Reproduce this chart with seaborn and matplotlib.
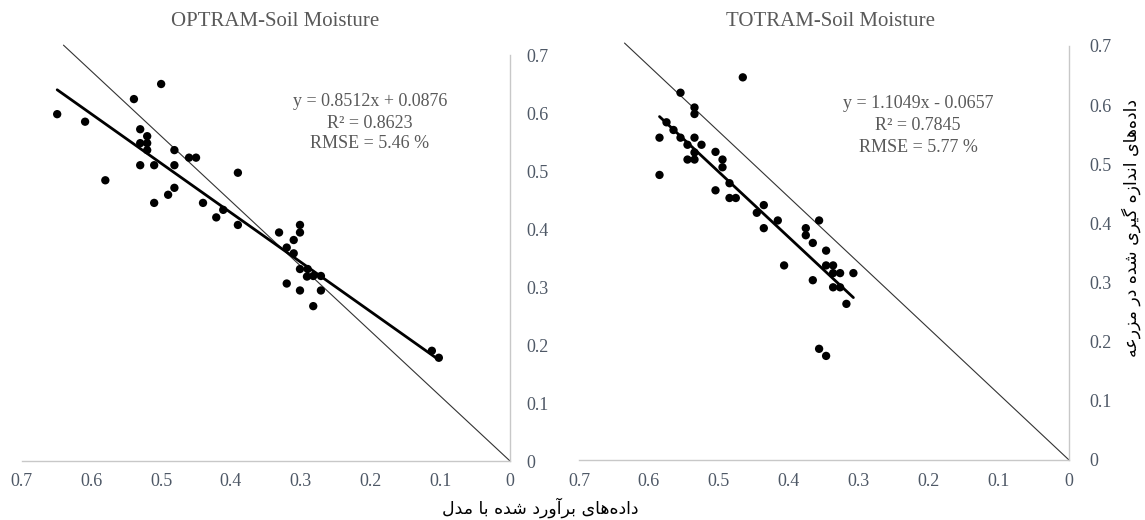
import numpy as np
import pandas as pd
import matplotlib
matplotlib.use("Agg")
import matplotlib.pyplot as plt
import seaborn as sns

# OPTRAM panel: model estimate (x) vs field measurement (y)
optram_x = [0.649, 0.609, 0.500, 0.539, 0.530, 0.520, 0.530, 0.520, 0.520, 0.481,
            0.460, 0.450, 0.530, 0.510, 0.481, 0.390, 0.580, 0.481, 0.490, 0.510,
            0.440, 0.411, 0.421, 0.390, 0.331, 0.301, 0.301, 0.310, 0.320, 0.310,
            0.301, 0.290, 0.291, 0.282, 0.271, 0.320, 0.301, 0.271, 0.282, 0.112,
            0.102]
optram_y = [0.598, 0.585, 0.650, 0.624, 0.572, 0.560, 0.548, 0.548, 0.536, 0.536,
            0.523, 0.523, 0.510, 0.510, 0.510, 0.497, 0.484, 0.471, 0.459, 0.445,
            0.445, 0.433, 0.420, 0.407, 0.394, 0.407, 0.394, 0.381, 0.368, 0.358,
            0.331, 0.331, 0.318, 0.319, 0.319, 0.306, 0.294, 0.294, 0.267, 0.190,
            0.178]

# TOTRAM panel
totram_x = [0.466, 0.555, 0.535, 0.535, 0.575, 0.565, 0.585, 0.555, 0.535, 0.545,
            0.525, 0.535, 0.505, 0.545, 0.535, 0.495, 0.495, 0.585, 0.485, 0.505,
            0.485, 0.476, 0.436, 0.446, 0.416, 0.436, 0.357, 0.376, 0.376, 0.366,
            0.347, 0.407, 0.347, 0.337, 0.337, 0.327, 0.308, 0.366, 0.337, 0.327,
            0.318, 0.357, 0.347]
totram_y = [0.647, 0.621, 0.596, 0.585, 0.571, 0.558, 0.545, 0.545, 0.545, 0.533,
            0.533, 0.520, 0.521, 0.508, 0.508, 0.508, 0.495, 0.482, 0.468, 0.456,
            0.443, 0.443, 0.431, 0.418, 0.405, 0.392, 0.405, 0.392, 0.380, 0.367,
            0.354, 0.329, 0.329, 0.329, 0.316, 0.316, 0.316, 0.304, 0.292, 0.292,
            0.264, 0.188, 0.176]

# trend line coefficients as printed on the chart
optram_fit = (0.8512, 0.0876)
totram_fit = (1.1049, -0.0657)
optram_stats = ["y = 0.8512x + 0.0876", "R\u00b2 = 0.8623", "RMSE = 5.46 %"]
totram_stats = ["y = 1.1049x - 0.0657", "R\u00b2 = 0.7845", "RMSE = 5.77 %"]

# reference diagonal (as drawn in the original)
optram_ref = ([0.0, 0.640], [0.0, 0.717])
totram_ref = ([0.0, 0.635], [0.0, 0.705])

ticks = [0, 0.1, 0.2, 0.3, 0.4, 0.5, 0.6, 0.7]
tick_labels = ["0", "0.1", "0.2", "0.3", "0.4", "0.5", "0.6", "0.7"]

xlabel_fa = "داده\u200cهای برآورد شده با مدل"
ylabel_fa = "داده\u200cهای اندازه گیری شده در مزرعه"

# matplotlib has no Arabic shaping, so pick presentation forms by hand
FORMS = {  # isolated, final, initial, medial
    'ا': ('\uFE8D', '\uFE8E', None, None),
    'آ': ('\uFE81', '\uFE82', None, None),
    'ب': ('\uFE8F', '\uFE90', '\uFE91', '\uFE92'),
    'د': ('\uFEA9', '\uFEAA', None, None),
    'ر': ('\uFEAD', '\uFEAE', None, None),
    'ز': ('\uFEAF', '\uFEB0', None, None),
    'و': ('\uFEED', '\uFEEE', None, None),
    'ه': ('\uFEE9', '\uFEEA', '\uFEEB', '\uFEEC'),
    'ی': ('\uFBFC', '\uFBFD', '\uFBFE', '\uFBFF'),
    'ن': ('\uFEE5', '\uFEE6', '\uFEE7', '\uFEE8'),
    'گ': ('\uFB92', '\uFB93', '\uFB94', '\uFB95'),
    'ش': ('\uFEB5', '\uFEB6', '\uFEB7', '\uFEB8'),
    'م': ('\uFEE1', '\uFEE2', '\uFEE3', '\uFEE4'),
    'ل': ('\uFEDD', '\uFEDE', '\uFEDF', '\uFEE0'),
    'ع': ('\uFEC9', '\uFECA', '\uFECB', '\uFECC'),
}


def shape_fa(text):
    out = []
    for i, ch in enumerate(text):
        if ch not in FORMS:
            out.append(ch)
            continue
        prev = text[i - 1] if i > 0 else ''
        nxt = text[i + 1] if i + 1 < len(text) else ''
        joins_prev = prev in FORMS and FORMS[prev][2] is not None
        joins_next = FORMS[ch][2] is not None and nxt in FORMS
        iso, fin, ini, med = FORMS[ch]
        if joins_prev and joins_next:
            out.append(med)
        elif joins_prev:
            out.append(fin)
        elif joins_next:
            out.append(ini)
        else:
            out.append(iso)
    return ''.join(out).replace('\u200c', '')[::-1]


def px(x, y):
    # pixel position (from top-left) -> figure fraction
    return x / 1145, 1 - y / 520


sns.set_theme(style="white")
plt.rcParams['font.family'] = ['Liberation Serif', 'DejaVu Sans']

text_col = "#595959"
tick_col = "#4e5866"
spine_col = "#c8c8c8"

fig = plt.figure(figsize=(11.45, 5.2), dpi=100)
ax1 = fig.add_axes([21.6 / 1145, 59 / 520, 488.4 / 1145, 406 / 520])
ax2 = fig.add_axes([579 / 1145, 60 / 520, 490 / 1145, 414 / 520])

panels = [
    (ax1, optram_x, optram_y, optram_fit, optram_ref, "OPTRAM-Soil Moisture", optram_stats,
     (275, 22), (370, [102, 123, 144]), 12),
    (ax2, totram_x, totram_y, totram_fit, totram_ref, "TOTRAM-Soil Moisture", totram_stats,
     (830, 22), (918, [104, 126, 147]), 15),
]

for ax, xs, ys, fit, ref, title, stats, tpos, spos, ypad in panels:
    df = pd.DataFrame({"x": xs, "y": ys})
    # reference diagonal
    sns.lineplot(x=ref[0], y=ref[1], ax=ax, color="#333333", linewidth=0.8,
                 sort=False, estimator=None, clip_on=False)
    # trend line from the printed equation over the data range
    fx = np.array([df.x.min(), df.x.max()])
    sns.lineplot(x=fx, y=fit[0] * fx + fit[1], ax=ax, color="black",
                 linewidth=2.0, sort=False, estimator=None)
    sns.scatterplot(data=df, x="x", y="y", ax=ax, color="black", s=36,
                    edgecolor="none", zorder=3)

    ax.set_xlim(0.7, 0)
    ax.set_ylim(0, 0.7)
    ax.set_xticks(ticks)
    ax.set_xticklabels(tick_labels)
    ax.set_yticks(ticks)
    ax.set_yticklabels(tick_labels)
    ax.yaxis.tick_right()
    ax.tick_params(axis="x", length=0, pad=9, labelsize=13, labelcolor=tick_col)
    ax.tick_params(axis="y", length=0, pad=ypad, labelsize=13, labelcolor=tick_col)
    for lbl in ax.get_yticklabels():
        lbl.set_horizontalalignment("left")
    ax.set_xlabel("")
    ax.set_ylabel("")
    for side in ["top", "left"]:
        ax.spines[side].set_visible(False)
    for side in ["bottom", "right"]:
        ax.spines[side].set_color(spine_col)
        ax.spines[side].set_linewidth(1.0)
    ax.patch.set_alpha(0)

    fig.text(*px(*tpos), title, ha="center", va="center", fontsize=15, color=text_col)
    for s, yy in zip(stats, spos[1]):
        fig.text(*px(spos[0], yy), s, ha="center", va="center",
                 fontsize=13, color=text_col)

fig.text(*px(540, 508), shape_fa(xlabel_fa), ha="center", va="center",
         fontsize=12.5, color="black", family=["DejaVu Sans"])
fig.text(*px(1131, 228), shape_fa(ylabel_fa), ha="center", va="center",
         rotation=90, fontsize=12.5, color="black", family=["DejaVu Sans"])

fig.savefig("out.png", dpi=100)
